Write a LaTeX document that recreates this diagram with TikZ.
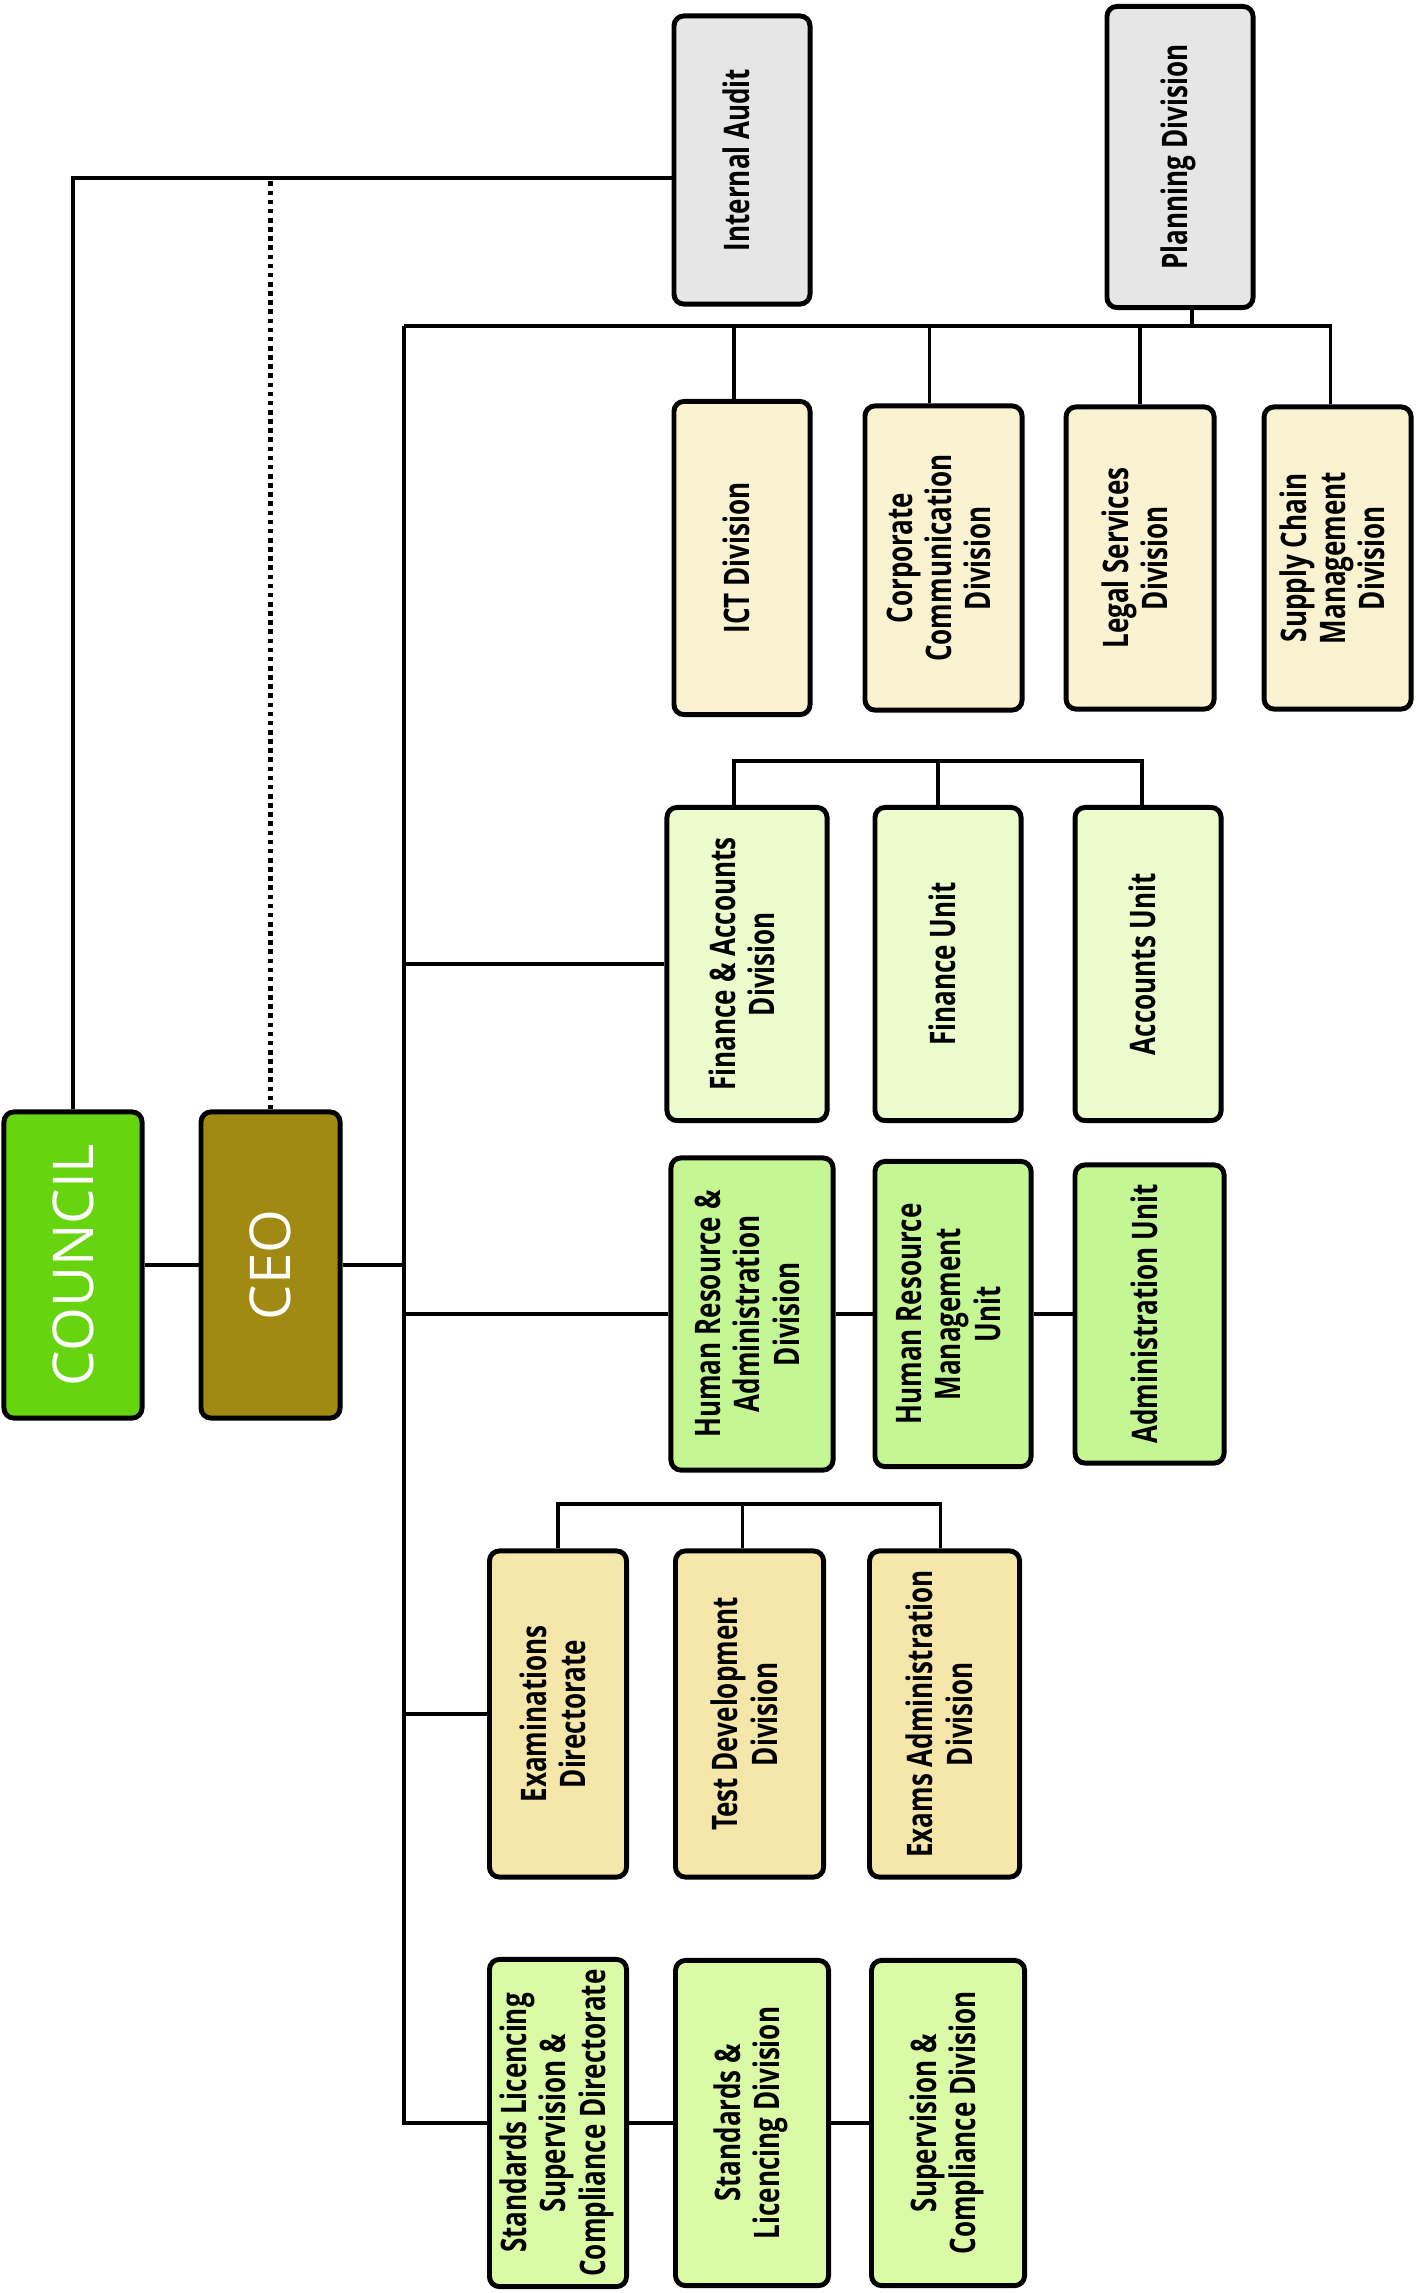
\documentclass[tikz,border=0pt]{standalone}
\usepackage{fontspec}
\setmainfont{Open Sans}[FakeStretch=0.74]
\newfontfamily\headfont{Open Sans}
\usepackage{xcolor}
\usepackage{graphicx}
\usepackage{tikz}
\usetikzlibrary{positioning}

\definecolor{councilgreen}{RGB}{102,212,14}
\definecolor{ceoolive}{RGB}{160,138,19}
\definecolor{staffgrey}{RGB}{230,230,230}
\definecolor{divcream}{RGB}{250,243,210}
\definecolor{finlime}{RGB}{236,252,205}
\definecolor{hrgreen}{RGB}{197,246,148}
\definecolor{examsand}{RGB}{245,230,170}
\definecolor{stdlime}{RGB}{218,250,166}

\newcommand{\vlabel}[1]{\rotatebox{90}{\begin{tabular}{@{}c@{}}#1\end{tabular}}}

\begin{document}
\begin{tikzpicture}[x=0.01cm, y=-0.01cm]
          \tikzstyle{box}=[draw=black, line width=1.4pt, rounded corners=0.1cm, inner sep=0pt,
                           font=\fontsize{10}{11.2}\selectfont\bfseries]
          \tikzstyle{head}=[box, text=white, font=\headfont\fontsize{16}{18}\selectfont]
          \tikzstyle{link}=[line width=1pt]
          \useasboundingbox (0,0) rectangle (1416,2293);
          % council and ceo
          \node[head, fill=councilgreen, minimum width=1.38cm, minimum height=3.06cm] (council) at (73,1265) {\rotatebox{90}{COUNCIL}};
          \node[head, fill=ceoolive, minimum width=1.39cm, minimum height=3.06cm, right=0.54cm of council] (ceo) {\rotatebox{90}{CEO}};
          % staff units
          \node[box, fill=staffgrey, minimum width=1.36cm, minimum height=2.88cm] (audit) at (742,160) {\vlabel{Internal Audit}};
          \node[box, fill=staffgrey, minimum width=1.46cm, minimum height=3.01cm] (plan) at (1180,157) {\vlabel{Planning Division}};
          % support divisions
          \node[box, fill=divcream, minimum width=1.36cm, minimum height=3.13cm] (ict) at (742,558) {\vlabel{ICT Division}};
          \node[box, fill=divcream, minimum width=1.57cm, minimum height=3.04cm, right=0.50cm of ict] (corp) {\vlabel{Corporate\\Communication\\Division}};
          \node[box, fill=divcream, minimum width=1.48cm, minimum height=3.02cm, right=0.39cm of corp] (legal) {\vlabel{Legal Services\\Division}};
          \node[box, fill=divcream, minimum width=1.47cm, minimum height=3.02cm, right=0.45cm of legal] (supply) {\vlabel{Supply Chain\\Management\\Division}};
          % finance
          \node[box, fill=finlime, minimum width=1.60cm, minimum height=3.13cm] (fin) at (747,964) {\vlabel{Finance \& Accounts\\Division}};
          \node[box, fill=finlime, minimum width=1.46cm, minimum height=3.13cm, right=0.43cm of fin] (finu) {\vlabel{Finance Unit}};
          \node[box, fill=finlime, minimum width=1.46cm, minimum height=3.13cm, right=0.49cm of finu] (acc) {\vlabel{Accounts Unit}};
          % human resource
          \node[box, fill=hrgreen, minimum width=1.62cm, minimum height=3.12cm] (hr) at (752,1314) {\vlabel{Human Resource \&\\Administration\\Division}};
          \node[box, fill=hrgreen, minimum width=1.56cm, minimum height=3.05cm, right=0.37cm of hr] (hrm) {\vlabel{Human Resource\\Management\\Unit}};
          \node[box, fill=hrgreen, minimum width=1.49cm, minimum height=2.98cm, right=0.39cm of hrm] (adm) {\vlabel{Administration Unit}};
          % examinations
          \node[box, fill=examsand, minimum width=1.37cm, minimum height=3.26cm] (exd) at (558,1714) {\vlabel{Examinations\\Directorate}};
          \node[box, fill=examsand, minimum width=1.48cm, minimum height=3.26cm, right=0.44cm of exd] (tdv) {\vlabel{Test Development\\Division}};
          \node[box, fill=examsand, minimum width=1.50cm, minimum height=3.26cm, right=0.41cm of tdv] (exa) {\vlabel{Exams Administration\\Division}};
          % standards
          \node[box, fill=stdlime, minimum width=1.37cm, minimum height=3.27cm] (slsc) at (558,2123) {\vlabel{Standards Licencing\\Supervision \&\\Compliance Directorate}};
          \node[box, fill=stdlime, minimum width=1.53cm, minimum height=3.25cm, right=0.44cm of slsc] (sld) {\vlabel{Standards \&\\Licencing Division}};
          \node[box, fill=stdlime, minimum width=1.53cm, minimum height=3.25cm, right=0.38cm of sld] (scd) {\vlabel{Supervision \&\\Compliance Division}};

          \coordinate (top) at (70,178);
          \coordinate (bus) at (404,326);
          \coordinate (finbar) at (0,761);
          \coordinate (exbar) at (0,1504);
          \draw[link] (council.north) |- (audit.west |- top);
          \draw[link, dash pattern=on 1.3pt off 1.3pt, line width=1.3pt] (ceo.north) -- (ceo.north |- top);
          \draw[link] (council) -- (ceo);
          \draw[link] (ceo.east) -- (ceo.east -| bus);
          \draw[link] (bus) |- (slsc.west);
          \draw[link] (bus) -| ([xshift=-0.07cm]supply.north);
          \draw[link] ([xshift=0.12cm]plan.south) -- ([xshift=0.12cm]plan.south |- bus);
          \draw[link] ([xshift=-0.08cm]ict.north) -- ([xshift=-0.08cm]ict.north |- bus);
          \draw[link] ([xshift=-0.14cm]corp.north) -- ([xshift=-0.14cm]corp.north |- bus);
          \draw[link] (legal.north) -- (legal.north |- bus);
          \draw[link] (fin.west -| bus) -- (fin.west);
          \draw[link] ([xshift=-0.13cm]fin.north) |- ([xshift=-0.06cm]acc.north |- finbar) -- ([xshift=-0.06cm]acc.north);
          \draw[link] ([xshift=-0.10cm]finu.north) -- ([xshift=-0.10cm]finu.north |- finbar);
          \draw[link] (hr.west -| bus) -- (hr.west);
          \draw[link] (hr) -- (hrm);
          \draw[link] (hrm) -- (adm);
          \draw[link] (exd.west -| bus) -- (exd.west);
          \draw[link] (exd.north) |- ([xshift=-0.04cm]exa.north |- exbar) -- ([xshift=-0.04cm]exa.north);
          \draw[link] ([xshift=-0.07cm]tdv.north) -- ([xshift=-0.07cm]tdv.north |- exbar);
          \draw[link] (slsc) -- (sld);
          \draw[link] (sld) -- (scd);
        \end{tikzpicture}
\end{document}
